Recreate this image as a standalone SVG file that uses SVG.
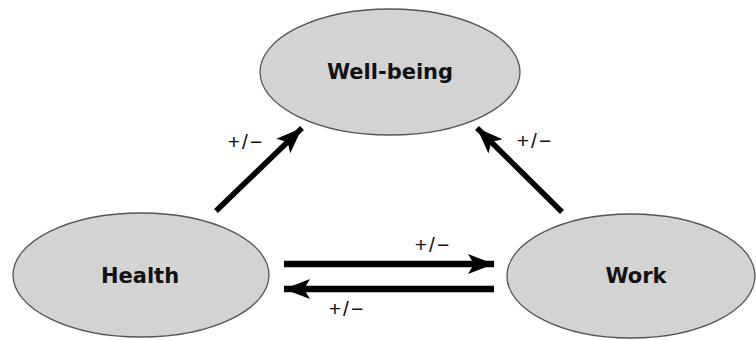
<svg xmlns="http://www.w3.org/2000/svg" width="756" height="340" viewBox="0 0 756 340">
<defs>
<style>
.node{fill:#d3d3d3;stroke:#555;stroke-width:1.3}
.nl{font-family:"DejaVu Sans","Liberation Sans",sans-serif;font-weight:bold;font-size:21px;fill:#111;text-anchor:middle}
.el{font-family:"Liberation Sans",Arial,sans-serif;font-size:21px;letter-spacing:2px;fill:#111;text-anchor:middle}
.c{stroke:#000;fill:none}
</style>
<marker id="ah" markerUnits="userSpaceOnUse" markerWidth="28" markerHeight="22" refX="26" refY="10" orient="auto" viewBox="0 0 28 20">
<path d="M0,0 L26,10 L0,20 L6,10 Z" fill="#000"/>
</marker>
</defs>
<rect width="756" height="340" fill="#fff"/>
<g id="connectors">
<line class="c" x1="216" y1="211" x2="302" y2="128" stroke-width="5.5" marker-end="url(#ah)"/>
<line class="c" x1="562" y1="212" x2="477" y2="128" stroke-width="5.5" marker-end="url(#ah)"/>
<line class="c" x1="284" y1="264" x2="494" y2="264" stroke-width="6.5" marker-end="url(#ah)"/>
<line class="c" x1="494" y1="289" x2="284" y2="289" stroke-width="6.5" marker-end="url(#ah)"/>
<text class="el" x="246" y="149">+/−</text>
<text class="el" x="535" y="148">+/−</text>
<text class="el" x="433" y="252">+/−</text>
<text class="el" x="347" y="316">+/−</text>
</g>
<g id="wellbeing">
<ellipse class="node" cx="390" cy="72" rx="130" ry="63"/>
<text class="nl" x="390" y="79">Well-being</text>
</g>
<g id="health">
<ellipse class="node" cx="141" cy="275" rx="128" ry="62"/>
<text class="nl" x="140" y="283">Health</text>
</g>
<g id="work">
<ellipse class="node" cx="631" cy="276" rx="124" ry="62"/>
<text class="nl" x="636" y="283">Work</text>
</g>
</svg>
